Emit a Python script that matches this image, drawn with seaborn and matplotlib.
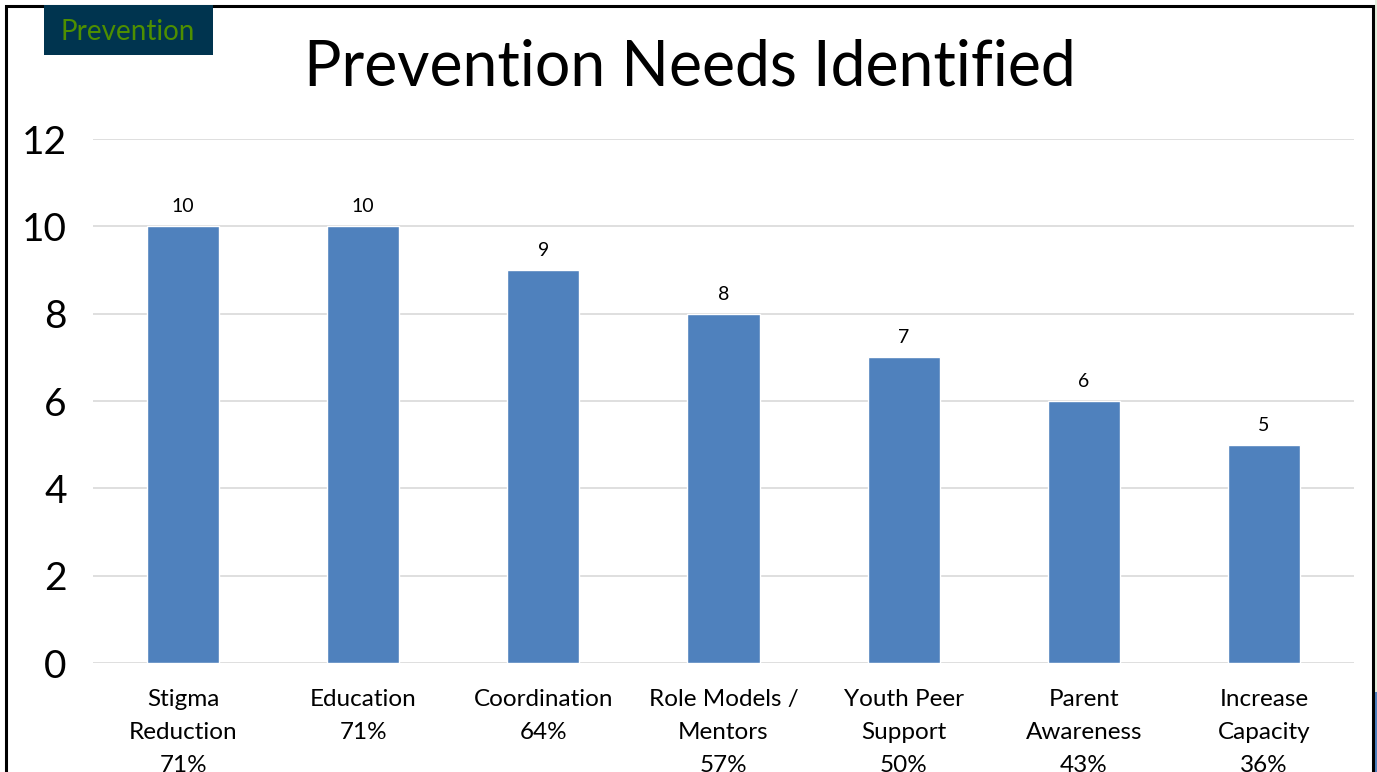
import matplotlib
matplotlib.use("Agg")
import matplotlib.pyplot as plt
import seaborn as sns
import pandas as pd
from matplotlib.patches import Rectangle

categories = ["Stigma\nReduction\n71%", "Education\n71%", "Coordination\n64%",
              "Role Models /\nMentors\n57%", "Youth Peer\nSupport\n50%",
              "Parent\nAwareness\n43%", "Increase\nCapacity\n36%"]
counts = [10, 10, 9, 8, 7, 6, 5]
yticks = [0, 2, 4, 6, 8, 10, 12]

sns.set_theme(style="white")
plt.rcParams["font.family"] = ["Lato", "DejaVu Sans"]

W, H = 1377, 772
fig = plt.figure(figsize=(W / 100, H / 100), dpi=100)
ax = fig.add_axes([93 / W, 1 - 663 / H, (1354 - 93) / W, (663 - 139) / H])

df = pd.DataFrame({"need": categories, "count": counts})
sns.barplot(data=df, x="need", y="count", color="#4F81BD", saturation=1,
            width=0.4, ax=ax, zorder=3)

ax.set_ylim(0, 12)
ax.set_yticks(yticks)
ax.set_yticklabels([str(t) for t in yticks], fontsize=28)
ax.tick_params(axis="y", pad=19, length=0, labelcolor="black")
ax.tick_params(axis="x", pad=19, length=0, labelsize=17.5, labelcolor="black")
for lbl in ax.get_xticklabels():
    lbl.set_linespacing(1.7)
ax.set_xlabel("")
ax.set_ylabel("")
ax.grid(axis="y", color="#D9D9D9", linewidth=1.2, zorder=0)
ax.grid(axis="x", visible=False)
for s in ax.spines.values():
    s.set_visible(False)

for i, v in enumerate(counts):
    ax.annotate(str(v), (i, v), xytext=(0, 8), textcoords="offset points",
                ha="center", va="bottom", fontsize=14, color="black")

# slide frame
fig.patches.append(Rectangle((6 / W, -0.1), (1373 - 6) / W, 1 - 6 / H + 0.1,
                             transform=fig.transFigure, fill=False,
                             edgecolor="black", linewidth=2.2, zorder=10))
fig.patches.append(Rectangle((1375 / W, 0), 2 / W, 1, transform=fig.transFigure,
                             facecolor="#E4EEDC", edgecolor="none", zorder=9))
fig.patches.append(Rectangle((1375 / W, 0), 2 / W, 80 / H, transform=fig.transFigure,
                             facecolor="#4F81BD", edgecolor="none", zorder=9))

# section tag
fig.patches.append(Rectangle((44 / W, 1 - 55 / H), (213 - 44) / W, 50 / H,
                             transform=fig.transFigure, facecolor="#00344F",
                             edgecolor="none", zorder=11))
fig.text(128 / W, 1 - 32 / H, "Prevention", ha="center", va="center",
         fontsize=20, color="#4E8F00", zorder=12)

fig.text(690 / W, 1 - 67 / H, "Prevention Needs Identified", ha="center",
         va="center", fontsize=45, color="black")

fig.savefig("out.png", dpi=100)
